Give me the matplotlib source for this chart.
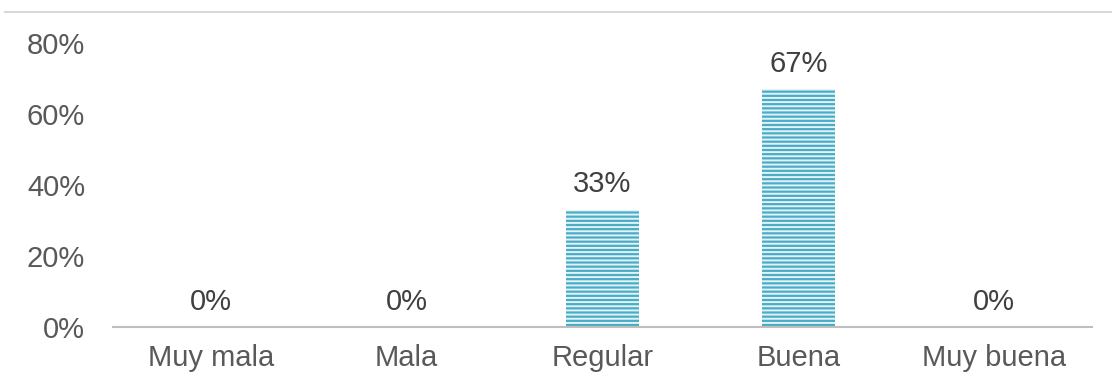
import matplotlib.pyplot as plt
from matplotlib.lines import Line2D

# respuestas por categoria (porcentaje)
categorias = ['Muy mala', 'Mala', 'Regular', 'Buena', 'Muy buena']
valores = [0, 0, 33, 67, 0]
ticks_y = [0, 20, 40, 60, 80]

plt.rcParams['font.family'] = ['Liberation Sans', 'DejaVu Sans']
plt.rcParams['hatch.linewidth'] = 1.4

fig = plt.figure(figsize=(11.12, 3.89), dpi=100)
ax = fig.add_axes([113 / 1112, 1 - 327 / 389, 979 / 1112, 284 / 389])

x = range(len(categorias))
ax.bar(x, valores, width=0.375, color='#4BACC6', linewidth=0)
# rayas claras horizontales sobre las barras
ax.bar(x, valores, width=0.375, facecolor='none', edgecolor='#E2F3F8',
       hatch='----', linewidth=0)

for i, v in enumerate(valores):
    ax.annotate(f'{v}%', (i, v), xytext=(0, 12.5), textcoords='offset points',
                ha='center', va='baseline', fontsize=21, color='#404040')

ax.set_xlim(-0.5, len(categorias) - 0.5)
ax.set_ylim(0, 80)
ax.set_yticks(ticks_y)
ax.set_yticklabels([f'{t}%' for t in ticks_y])
ax.set_xticks(list(x))
ax.set_xticklabels(categorias)
ax.tick_params(axis='both', length=0, labelsize=21, colors='#595959')
ax.tick_params(axis='y', pad=20)
ax.tick_params(axis='x', pad=12)

for s in ['top', 'right', 'left']:
    ax.spines[s].set_visible(False)
ax.spines['bottom'].set_color('#BFBFBF')
ax.spines['bottom'].set_linewidth(1.5)
ax.spines['bottom'].set_clip_on(False)

# borde superior del grafico
fig.add_artist(Line2D([5 / 1112, 1], [1 - 12 / 389, 1 - 12 / 389], color='#D9D9D9', lw=1.5))

plt.savefig('out.png')
